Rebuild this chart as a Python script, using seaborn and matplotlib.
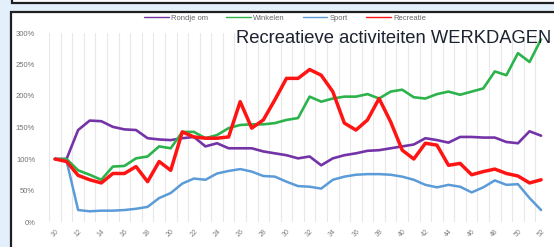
import numpy as np
import pandas as pd
import matplotlib
matplotlib.use("Agg")
import matplotlib.pyplot as plt
from matplotlib.patches import Rectangle
from matplotlib.lines import Line2D
import seaborn as sns

weeks = list(range(10, 53))
rondje_om = [100, 100, 146, 161, 160, 151, 147, 146, 133, 131, 130, 133, 135, 120, 125, 117, 117, 117,
             112, 109, 106, 101, 104, 90, 101, 106, 109, 113, 114, 117, 120, 123, 133, 130, 126, 135,
             135, 134, 134, 127, 125, 144, 137]
winkelen = [100, 100, 82, 75, 67, 88, 89, 101, 104, 120, 117, 143, 143, 133, 138, 149, 154, 155,
            155, 157, 162, 165, 199, 191, 196, 199, 199, 203, 196, 207, 210, 198, 196, 203, 207, 202,
            207, 212, 239, 233, 268, 254, 290]
sport = [100, 97, 19, 17, 18, 18, 19, 21, 24, 38, 46, 61, 69, 67, 77, 81, 84, 80,
         73, 72, 64, 57, 56, 53, 67, 72, 75, 76, 76, 75, 72, 67, 59, 55, 59, 56,
         47, 55, 66, 59, 60, 38, 19]
recreatie = [100, 96, 74, 67, 62, 77, 77, 88, 64, 96, 82, 143, 135, 133, 133, 135, 191, 149,
             162, 194, 228, 228, 242, 233, 207, 157, 146, 162, 196, 159, 114, 100, 125, 122, 90, 93,
             75, 80, 84, 77, 73, 62, 67]

series_names = ["Rondje om", "Winkelen", "Sport", "Recreatie"]
series_values = [rondje_om, winkelen, sport, recreatie]
colors = ["#7434a8", "#2db34c", "#5b9bd8", "#ff1414"]
widths = [1.9, 1.9, 1.8, 2.5]
y_ticks = [0, 50, 100, 150, 200, 250, 300]
x_ticks = list(range(10, 53, 2))
title = "Recreatieve activiteiten WERKDAGEN"

df = pd.DataFrame({
    "week": weeks * len(series_names),
    "waarde": sum(series_values, []),
    "serie": sum([[n] * len(weeks) for n in series_names], []),
})

sns.set_style("white")
plt.rcParams["font.family"] = ["Liberation Sans", "DejaVu Sans"]

W, H = 554, 247
fig = plt.figure(figsize=(W / 100, H / 100), dpi=100)
fig.patch.set_facecolor("#e3effa")

# top box (only its bottom part visible)
fig.patches.append(Rectangle((12 / W, (H - 3.5) / H), 1.0, 0.2, transform=fig.transFigure,
                             facecolor="#fafcfe", edgecolor="#202020", lw=1.6, zorder=-2))
# chart box
fig.patches.append(Rectangle((10.5 / W, -0.1), 1.0, (H - 12.5) / H + 0.1, transform=fig.transFigure,
                             facecolor="white", edgecolor="#202020", lw=1.6, zorder=-2))

ax = fig.add_axes([49.2 / W, 25 / H, 497.7 / W, 189 / H])
ax.set_zorder(1)
ax.set_facecolor("none")

for name, col, lw in zip(series_names, colors, widths):
    sub = df[df["serie"] == name]
    sns.lineplot(data=sub, x="week", y="waarde", color=col, linewidth=lw, ax=ax,
                 legend=False, solid_joinstyle="round", solid_capstyle="round", zorder=3)

ax.set_xlim(9.5, 52.5)
ax.set_ylim(0, 300)
ax.set_xticks(x_ticks)
ax.set_xticklabels([str(w) for w in x_ticks], rotation=45, ha="center", va="top",
                   fontsize=5, color="#808080")
ax.set_xticks(np.arange(9.5, 53, 1), minor=True)
ax.set_yticks(y_ticks)
ax.set_yticklabels([f"{v}%" for v in y_ticks], fontsize=5.5, color="#737373")
ax.tick_params(axis="both", which="both", length=0)
ax.tick_params(axis="y", pad=10)
ax.tick_params(axis="x", pad=4)
ax.grid(False)
ax.grid(which="minor", axis="x", color="#e8e8e8", lw=0.8)
for s in ax.spines.values():
    s.set_visible(False)
ax.set_xlabel("")
ax.set_ylabel("")

handles = [Line2D([0], [0], color=c, lw=1.0) for c in colors]
fig.legend(handles, series_names, loc="center", bbox_to_anchor=(285 / W, 1 - 18.5 / H),
           ncol=4, frameon=False, fontsize=5.5, labelcolor="#666666",
           handlelength=3.2, handletextpad=0.3, columnspacing=2.4)

fig.text(236 / W, 1 - 43 / H, title, fontsize=13.2, color="#1d2230", ha="left", va="baseline",
         zorder=5)

fig.savefig("out.png", dpi=100, facecolor=fig.get_facecolor())
